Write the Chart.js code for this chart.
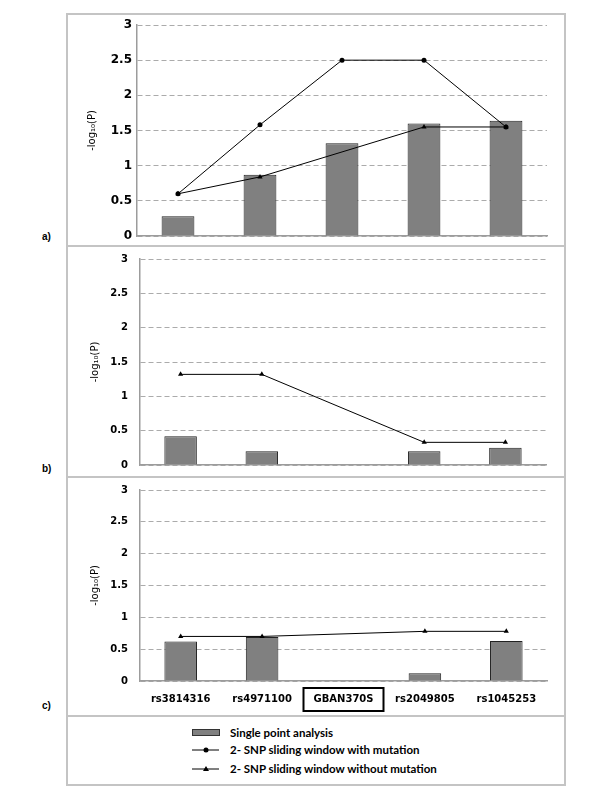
<!DOCTYPE html>
<html>
<head>
<meta charset="utf-8">
<script src="https://cdn.jsdelivr.net/npm/chart.js@4/dist/chart.umd.min.js"></script>
<style>
body { margin: 0; background: #fff; width: 600px; height: 800px; position: relative; overflow: hidden; }
canvas { position: absolute; }
.frame { position: absolute; left: 66px; top: 13px; width: 496px; height: 769px; border: 2px solid #c4c4c4; }
.sep { position: absolute; left: 66px; width: 500px; height: 2px; background: #c4c4c4; }
.tag { position: absolute; left: 42px; font: bold 10px "Liberation Sans", Arial, sans-serif; color: #000; }
.leg { position: absolute; left: 192px; height: 16px; font: bold 11.5px Lato, sans-serif; color: #000; }
.leg svg { position: absolute; left: 0; top: 3px; }
.leg span { position: absolute; left: 38px; top: 0; white-space: nowrap; line-height: 16px; }
</style>
</head>
<body>
<div class="frame"></div>
<div class="sep" style="top:245px"></div>
<div class="sep" style="top:476px"></div>
<div class="sep" style="top:715px"></div>

<canvas id="chartA" width="498" height="232" style="left:67px;top:14px"></canvas>
<canvas id="chartB" width="498" height="230" style="left:67px;top:247px"></canvas>
<canvas id="chartC" width="498" height="238" style="left:67px;top:478px"></canvas>

<div class="tag" style="top:231px">a)</div>
<div class="tag" style="top:463px">b)</div>
<div class="tag" style="top:700px">c)</div>

<div class="leg" style="top:725px">
  <svg width="30" height="10"><rect x="0.5" y="1.5" width="27" height="6" fill="#808080" stroke="#333"/></svg>
  <span>Single point analysis</span>
</div>
<div class="leg" style="top:742px">
  <svg width="30" height="10"><line x1="0" y1="5" x2="27" y2="5" stroke="#000"/><circle cx="14" cy="5" r="2.5" fill="#000"/></svg>
  <span>2- SNP sliding window with mutation</span>
</div>
<div class="leg" style="top:761px">
  <svg width="30" height="10"><line x1="0" y1="5" x2="27" y2="5" stroke="#000"/><polygon points="14,2 17,7 11,7" fill="#000"/></svg>
  <span>2- SNP sliding window without mutation</span>
</div>

<script>
// Dados do gráfico
var markers = ["rs3814316", "rs4971100", "GBAN370S", "rs2049805", "rs1045253"];
var yTicks = [0, 0.5, 1, 1.5, 2, 2.5, 3];

// a)
var singleA = [0.28, 0.87, 1.32, 1.60, 1.64];
var withMutA = [0.60, 1.58, 2.50, 2.50, 1.55];
var withoutMutA = [0.60, 0.84, null, 1.55, 1.55];

// b)
var singleB = [0.42, 0.20, null, 0.20, 0.25];
var withoutMutB = [1.32, 1.32, null, 0.33, 0.33];

// c)
var singleC = [0.62, 0.69, null, 0.12, 0.63];
var withoutMutC = [0.70, 0.70, null, 0.78, 0.78];

var axisGray = "#9c9c9c";
var gridGray = "#ababab";

Chart.defaults.animation = false;

// Caixa em volta do rótulo da mutação
var boxPlugin = {
	id: "boxLabel",
	afterDraw: function (chart) {
		var x = chart.scales.x;
		var cx = x.getPixelForTick(2);
		var ctx = chart.ctx;
		ctx.save();
		ctx.strokeStyle = "#000";
		ctx.lineWidth = 2;
		ctx.strokeRect(cx - 40, x.top + 7, 80, 23);
		ctx.restore();
	},
};

function barSet(values) {
	return {
		type: "bar",
		data: values,
		backgroundColor: "#808080",
		borderColor: "#222",
		borderWidth: 1,
		barPercentage: 0.4,
		categoryPercentage: 1,
		order: 2,
	};
}

function lineSet(values, style) {
	return {
		type: "line",
		data: values,
		borderColor: "#000",
		borderWidth: 1,
		pointStyle: style,
		pointRadius: style == "triangle" ? 3 : 2.5,
		pointBackgroundColor: "#000",
		pointBorderColor: "#000",
		pointBorderWidth: 0,
		spanGaps: true,
		tension: 0,
		order: 1,
	};
}

function makeChart(id, datasets, cfg) {
	return new Chart(document.getElementById(id), {
		type: "bar",
		data: { labels: markers, datasets: datasets },
		plugins: cfg.showLabels ? [boxPlugin] : [],
		options: {
			responsive: false,
			layout: { padding: cfg.padding },
			plugins: { legend: { display: false }, tooltip: { enabled: false } },
			scales: {
				x: {
					grid: { display: false, drawTicks: false },
					border: { display: true, color: axisGray, width: 1.5 },
					ticks: {
						display: cfg.showLabels,
						color: "#000",
						font: { family: "DejaVu Sans", size: 10, weight: "bold" },
						padding: 12,
						maxRotation: 0,
						autoSkip: false,
					},
					afterFit: function (s) {
						s.height = cfg.xHeight;
					},
				},
				y: {
					min: 0,
					max: 3,
					grid: { color: gridGray, lineWidth: 1, drawTicks: false },
					border: { display: true, color: axisGray, width: 1.5, dash: [5, 3] },
					ticks: {
						color: "#000",
						font: { family: "DejaVu Sans", size: cfg.tickSize, weight: "bold" },
						padding: cfg.tickPad,
						callback: function (v) {
							return v;
						},
					},
					afterBuildTicks: function (s) {
						s.ticks = yTicks.map(function (v) { return { value: v }; });
					},
					title: {
						display: true,
						text: "-log\u2081\u2080(P)",
						color: "#000",
						font: { family: "DejaVu Sans", size: 10 },
						padding: { top: cfg.titlePad, bottom: 0 },
					},
					afterFit: function (s) {
						s.width = cfg.yWidth;
						// a área do gráfico fica só com o padding do layout
						s.paddingTop = 0;
						s.paddingBottom = 0;
					},
				},
			},
		},
	});
}

makeChart("chartA",
	[barSet(singleA), lineSet(withMutA, "circle"), lineSet(withoutMutA, "triangle")],
	{ padding: { top: 11, right: 18, bottom: 10, left: 0 }, yWidth: 70, xHeight: 0, titlePad: 19, tickSize: 12, tickPad: 5, showLabels: false });

makeChart("chartB",
	[barSet(singleB), lineSet(withoutMutB, "triangle")],
	{ padding: { top: 12, right: 19, bottom: 12, left: 0 }, yWidth: 73, xHeight: 0, titlePad: 22, tickSize: 10, tickPad: 12, showLabels: false });

makeChart("chartC",
	[barSet(singleC), lineSet(withoutMutC, "triangle")],
	{ padding: { top: 12, right: 18, bottom: 0, left: 0 }, yWidth: 73, xHeight: 35, titlePad: 22, tickSize: 10, tickPad: 12, showLabels: true });
</script>
</body>
</html>
